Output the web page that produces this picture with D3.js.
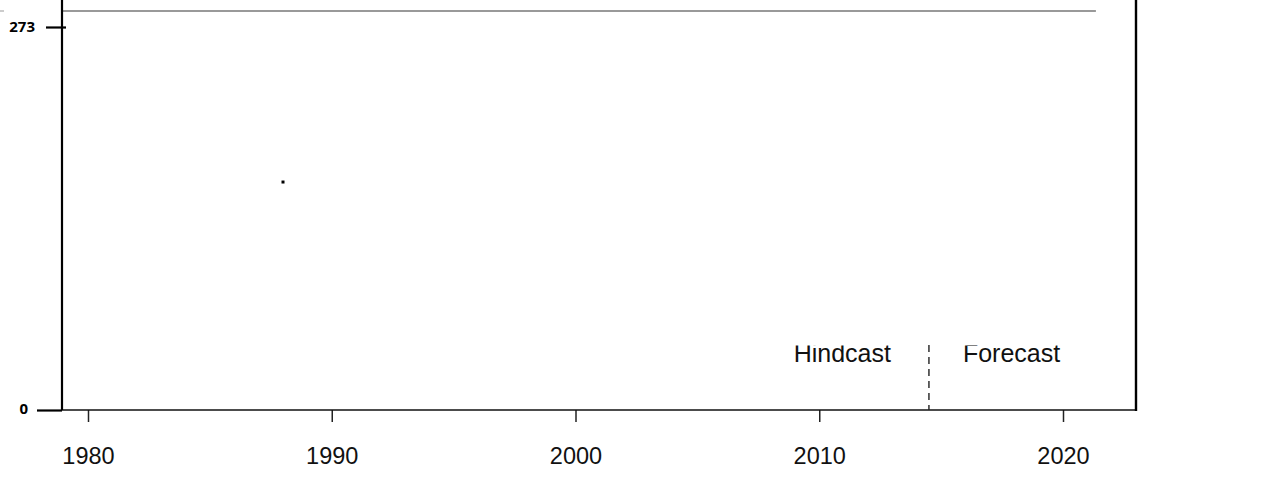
<!DOCTYPE html>
<html>
<head>
<meta charset="utf-8">
<script src="https://cdn.jsdelivr.net/npm/d3@7"></script>
<style>
  html, body { margin: 0; padding: 0; background: #fff; }
  svg { display: block; font-family: "Liberation Sans", Arial, sans-serif; }
</style>
</head>
<body>
<div id="chart"></div>
<script>
// chart values
const xTickYears = [1980, 1990, 2000, 2010, 2020];
const yTickValues = [0, 273];
const referenceLevel = [284.4];
const referenceSpan = [1978.9, 2021.35];
const pointYears = [1988];
const pointValues = [162.5];
const splitYear = [2014.5];
const splitTop = [46.3];
const periodLabels = ["Hindcast", "Forecast"];

const width = 1280, height = 490;

const svg = d3.select("#chart")
    .append("svg")
    .attr("width", width)
    .attr("height", height);

// scales: 1980 at x=88, 2020 at x=1063; 0 at y=410, 273 at y=27
const x = d3.scaleLinear().domain([1980, 2020]).range([88, 1063]);
const y = d3.scaleLinear().domain([0, 273]).range([410, 27]);

const xMin = x.invert(62), xMax = x.invert(1136);
const yTop = y.invert(0);

// grey reference line
svg.append("line")
    .attr("x1", x(referenceSpan[0])).attr("x2", x(referenceSpan[1]))
    .attr("y1", y(referenceLevel[0])).attr("y2", y(referenceLevel[0]))
    .attr("stroke", "#777").attr("stroke-width", 1.3);
svg.append("line")
    .attr("x1", 0).attr("x2", 4)
    .attr("y1", y(referenceLevel[0])).attr("y2", y(referenceLevel[0]))
    .attr("stroke", "#999").attr("stroke-width", 1);

// bottom axis
const xAxis = svg.append("g")
    .attr("transform", `translate(0,${y(0)})`)
    .call(d3.axisBottom(x).tickValues(xTickYears).tickFormat(d3.format("d"))
        .tickSize(12).tickSizeOuter(0));
xAxis.select(".domain").remove();
xAxis.selectAll(".tick line").attr("stroke", "#222").attr("stroke-width", 1.5);
xAxis.selectAll(".tick text")
    .attr("y", 46).attr("dy", "0.32em")
    .attr("font-size", 23.5).attr("fill", "#111")
    .attr("font-family", "'Liberation Sans', Arial, sans-serif");

svg.append("line")
    .attr("x1", x(xMin)).attr("x2", x(xMax))
    .attr("y1", y(0)).attr("y2", y(0))
    .attr("stroke", "#111").attr("stroke-width", 1.6);

// left axis
const yAxis = svg.append("g")
    .attr("transform", `translate(${x(xMin)},0)`)
    .call(d3.axisLeft(y).tickValues(yTickValues).tickSize(16).tickSizeOuter(0));
yAxis.select(".domain").remove();
yAxis.selectAll(".tick line")
    .attr("stroke", "#000").attr("stroke-width", 2.2)
    .attr("x2", d => d === 0 ? -25 : -16)
    .attr("x1", d => d === 0 ? 0 : 4);
yAxis.selectAll(".tick text")
    .attr("x", d => d === 0 ? -34 : -27)
    .attr("dy", d => d === 0 ? "0.2em" : "0.32em")
    .attr("font-size", 15).attr("font-weight", "bold").attr("fill", "#000")
    .attr("font-family", "'Open Sans', 'DejaVu Sans', sans-serif");

svg.append("line")
    .attr("x1", x(xMin)).attr("x2", x(xMin))
    .attr("y1", y(yTop)).attr("y2", y(0))
    .attr("stroke", "#000").attr("stroke-width", 2.2);

// right frame
svg.append("line")
    .attr("x1", x(xMax)).attr("x2", x(xMax))
    .attr("y1", y(yTop)).attr("y2", y(0) + 1)
    .attr("stroke", "#000").attr("stroke-width", 2.4);

// hindcast / forecast split
svg.append("line")
    .attr("x1", x(splitYear[0])).attr("x2", x(splitYear[0]))
    .attr("y1", y(splitTop[0])).attr("y2", y(0))
    .attr("stroke", "#222").attr("stroke-width", 1.4)
    .attr("stroke-dasharray", "7,5");

svg.append("clipPath").attr("id", "label-clip")
    .append("rect")
    .attr("x", 0).attr("y", y(splitTop[0]) + 0.5)
    .attr("width", width).attr("height", 60);

const labels = svg.append("g").attr("clip-path", "url(#label-clip)");
labels.selectAll("text")
    .data(periodLabels)
    .join("text")
    .attr("x", (d, i) => i === 0 ? x(splitYear[0]) - 38 : x(splitYear[0]) + 34)
    .attr("y", y(splitTop[0]) + 17)
    .attr("text-anchor", (d, i) => i === 0 ? "end" : "start")
    .attr("font-size", 25).attr("fill", "#111")
    .text(d => d);

// single data point
svg.selectAll("rect.point")
    .data(pointYears.map((d, i) => ({ year: d, value: pointValues[i] })))
    .join("rect")
    .attr("class", "point")
    .attr("x", d => x(d.year) - 1.5)
    .attr("y", d => y(d.value) - 1.5)
    .attr("width", 3).attr("height", 3)
    .attr("fill", "#000");
</script>
</body>
</html>
